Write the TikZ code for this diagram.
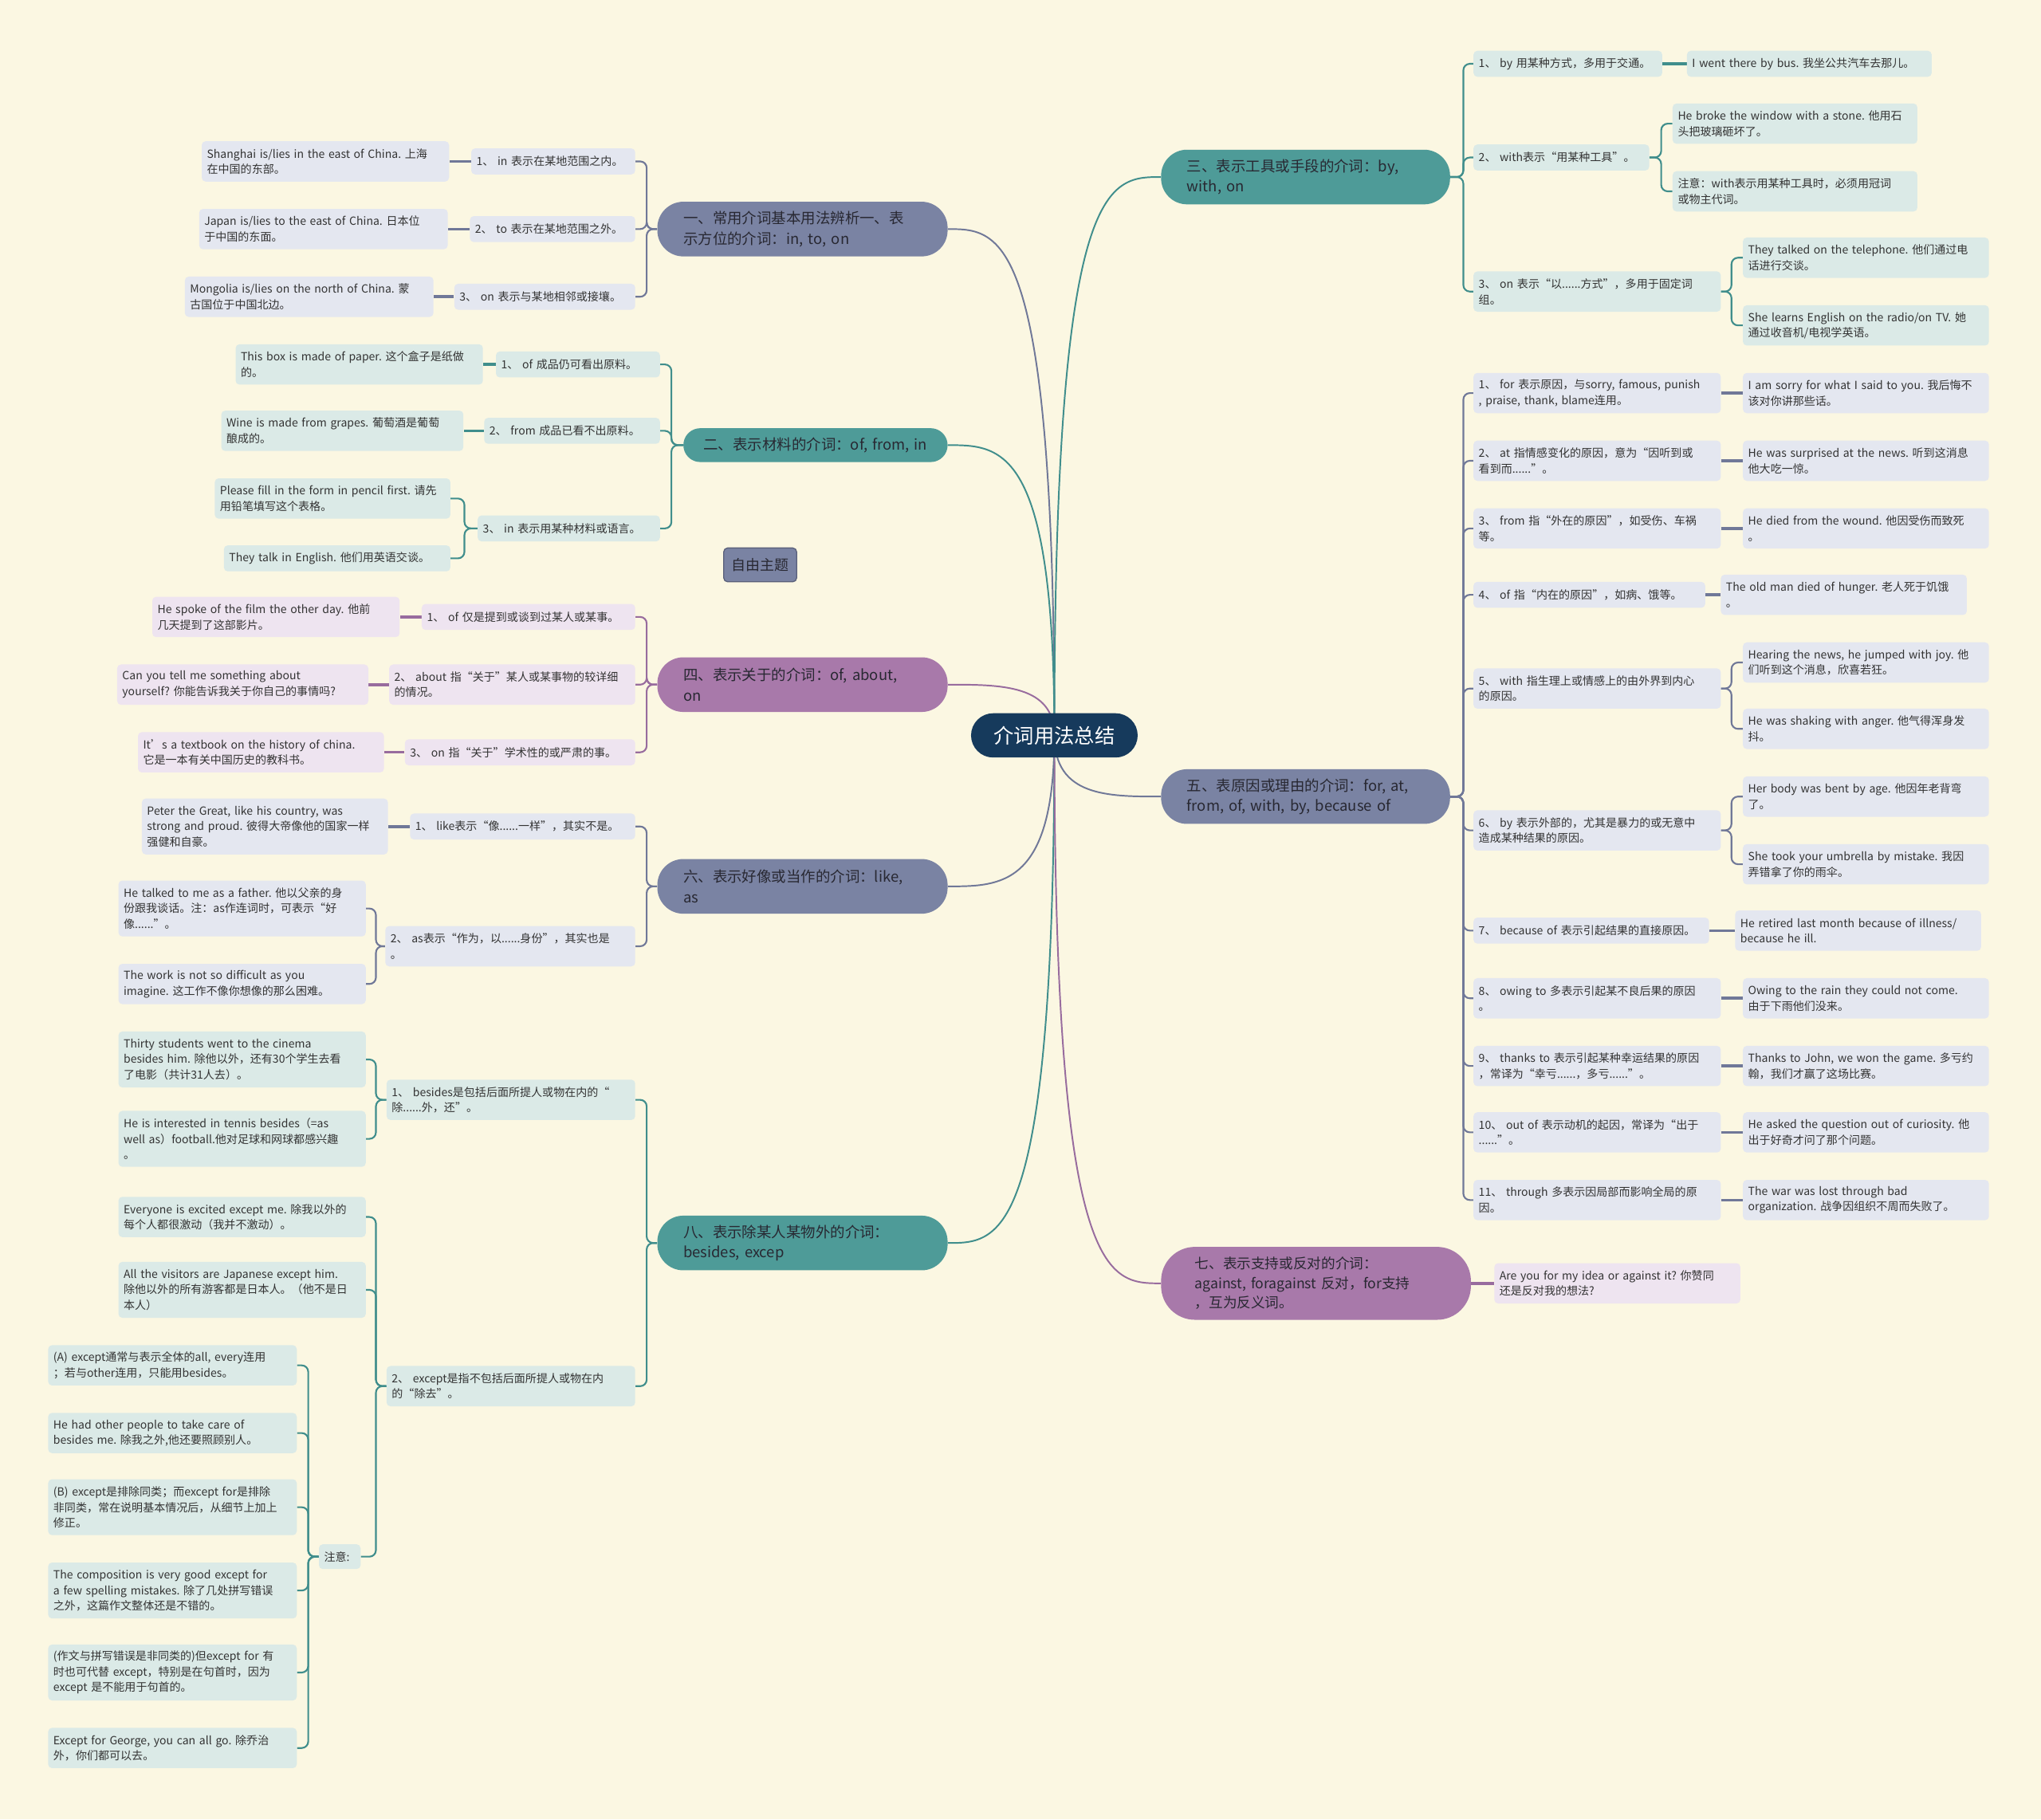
\documentclass[tikz,border=0pt]{standalone}
\usepackage{fontspec}
\setmainfont{Noto Sans CJK SC}
\frenchspacing
\definecolor{bgc}{RGB}{251,247,226}
\definecolor{rootc}{RGB}{22,58,92}
\definecolor{brB}{RGB}{122,131,163}
\definecolor{brT}{RGB}{78,155,152}
\definecolor{brP}{RGB}{168,121,170}
\definecolor{lbB}{RGB}{228,231,240}
\definecolor{ltB}{RGB}{219,234,231}
\definecolor{lpB}{RGB}{238,228,240}
\definecolor{cB}{RGB}{112,120,152}
\definecolor{cT}{RGB}{64,142,140}
\definecolor{cP}{RGB}{152,108,158}
\definecolor{txt}{RGB}{51,51,51}
\definecolor{brtxt}{RGB}{40,40,50}
\pgfdeclarelayer{bglayer}
\pgfdeclarelayer{edges}
\pgfsetlayers{bglayer,edges,main}
\tikzset{
  lf/.style={font=\fontsize{8.6}{12}\selectfont\frenchspacing, text=txt, rounded corners=3pt, inner xsep=4pt, inner ysep=1.5pt, align=left},
  lb/.style={lf, fill=lbB}, lt/.style={lf, fill=ltB}, lp/.style={lf, fill=lpB},
  bx/.style 2 args={text width=#1, minimum height=#2},
  br/.style={font=\fontsize{11.3}{15.5}\selectfont, text=brtxt, inner xsep=20pt, inner ysep=3pt, align=left, rounded corners=20pt, minimum height=42pt},
  curve/.style={line width=1.2pt},
  brk/.style={line width=1.3pt, rounded corners=5pt},
  link/.style={line width=2.2pt},
}
\begin{document}
\begin{tikzpicture}[x=1pt,y=-1pt]
\useasboundingbox (0,0) rectangle (1568,1398);
\begin{pgfonlayer}{bglayer}
\fill[bgc] (0,0) rectangle (1568,1398);
\end{pgfonlayer}

% root
\node[fill=rootc, text=white, font=\fontsize{15.5}{18}\selectfont, minimum width=128pt, minimum height=34pt, rounded corners=17pt, inner sep=0pt] (root) at (810,565) {介词用法总结};

% branches
\node[br, fill=brB, text width=183pt] (b1) at (616.5,176) {一、常用介词基本用法辨析一、表\\示方位的介词：in, to, on};
\node[br, fill=brT, text width=179pt, inner xsep=12pt, minimum height=26pt, rounded corners=13pt, align=center] (b2) at (626.5,342) {二、表示材料的介词：of, from, in};
\node[br, fill=brP, text width=183pt] (b4) at (616.5,526) {四、表示关于的介词：of, about,\\on};
\node[br, fill=brB, text width=183pt] (b6) at (616.5,681) {六、表示好像或当作的介词：like,\\as};
\node[br, fill=brT, text width=183pt] (b8) at (616.5,955) {八、表示除某人某物外的介词：\\besides, excep};
\node[br, fill=brT, text width=182pt] (b3) at (1003,136) {三、表示工具或手段的介词：by,\\with, on};
\node[br, fill=brB, text width=182pt] (b5) at (1003,612) {五、表原因或理由的介词：for, at,\\from, of, with, by, because of};
\node[br, fill=brP, text width=186pt, inner xsep=26pt, minimum height=56pt, rounded corners=26pt, font=\fontsize{10.8}{15}\selectfont] (b7) at (1011,986) {七、表示支持或反对的介词：\\against, foragainst 反对，for支持\\，互为反义词。};

\node[fill=brB, draw=cB!80!black, line width=0.8pt, rounded corners=3pt, font=\fontsize{11}{13}\selectfont, text=brtxt, minimum width=56pt, minimum height=26pt, inner sep=2pt] (free) at (584,434) {自由主题};

% branch 1
\node[lb, bx={118pt}{20pt}] (c11) at (425,124) {1、 in 表示在某地范围之内。};
\node[lb, bx={119pt}{20pt}] (c12) at (424.5,176) {2、 to 表示在某地范围之外。};
\node[lb, bx={131pt}{20pt}] (c13) at (418.5,228) {3、 on 表示与某地相邻或接壤。};
\node[lb, bx={182pt}{31pt}] (g11) at (250,124) {Shanghai is/lies in the east of China. 上海\\在中国的东部。};
\node[lb, bx={183pt}{31pt}] (g12) at (248.5,176) {Japan is/lies to the east of China. 日本位\\于中国的东面。};
\node[lb, bx={183pt}{31pt}] (g13) at (237.5,228) {Mongolia is/lies on the north of China. 蒙\\古国位于中国北边。};

% branch 2
\node[lt, bx={118pt}{20pt}] (c21) at (444,280) {1、 of 成品仍可看出原料。};
\node[lt, bx={127pt}{20pt}] (c22) at (439.5,331) {2、 from 成品已看不出原料。};
\node[lt, bx={132pt}{20pt}] (c23) at (437,406) {3、 in 表示用某种材料或语言。};
\node[lt, bx={182pt}{31pt}] (g21) at (276,280) {This box is made of paper. 这个盒子是纸做\\的。};
\node[lt, bx={178pt}{31pt}] (g22) at (263,331) {Wine is made from grapes. 葡萄酒是葡萄\\酿成的。};
\node[lt, bx={173pt}{31pt}] (g23) at (255.5,383) {Please fill in the form in pencil first. 请先\\用铅笔填写这个表格。};
\node[lt, bx={166pt}{20pt}] (g24) at (259,429) {They talk in English. 他们用英语交谈。};

% branch 4
\node[lp, bx={156pt}{20pt}] (c41) at (406,474) {1、 of 仅是提到或谈到过某人或某事。};
\node[lp, bx={181pt}{31pt}] (c42) at (393.5,526) {2、 about 指“关于”某人或某事物的较详细\\的情况。};
\node[lp, bx={169pt}{20pt}] (c43) at (399.5,578) {3、 on 指“关于”学术性的或严肃的事。};
\node[lp, bx={182pt}{31pt}] (g41) at (212,474) {He spoke of the film the other day. 他前\\几天提到了这部影片。};
\node[lp, bx={185pt}{31pt}] (g42) at (186.5,526) {Can you tell me something about\\yourself? 你能告诉我关于你自己的事情吗?};
\node[lp, bx={181pt}{31pt}] (g43) at (200.5,578) {It’s a textbook on the history of china.\\它是一本有关中国历史的教科书。};

% branch 6
\node[lb, bx={165pt}{20pt}] (c61) at (401.5,635) {1、 like表示“像......一样”，其实不是。};
\node[lb, bx={184pt}{31pt}] (c62) at (392,727) {2、 as表示“作为，以......身份”，其实也是\\。};
\node[lb, bx={181pt}{43pt}] (g61) at (203.5,635) {Peter the Great, like his country, was\\strong and proud. 彼得大帝像他的国家一样\\强健和自豪。};
\node[lb, bx={182pt}{43pt}] (g62) at (186,698) {He talked to me as a father. 他以父亲的身\\份跟我谈话。注：as作连词时，可表示“好\\像......”。};
\node[lb, bx={182pt}{31pt}] (g63) at (186,756) {The work is not so difficult as you\\imagine. 这工作不像你想像的那么困难。};

% branch 8
\node[lt, bx={183pt}{31pt}] (c81) at (392.5,845) {1、 besides是包括后面所提人或物在内的“\\除......外，还”。};
\node[lt, bx={183pt}{31pt}] (c82) at (392.5,1065) {2、 except是指不包括后面所提人或物在内\\的“除去”。};
\node[lt, bx={182pt}{43pt}] (g81) at (186,814) {Thirty students went to the cinema\\besides him. 除他以外，还有30个学生去看\\了电影（共计31人去）。};
\node[lt, bx={182pt}{43pt}] (g82) at (186,875) {He is interested in tennis besides（=as\\well as）football.他对足球和网球都感兴趣\\。};
\node[lt, bx={182pt}{31pt}] (g83) at (186,935) {Everyone is excited except me. 除我以外的\\每个人都很激动（我并不激动）。};
\node[lt, bx={182pt}{43pt}] (g84) at (186,991) {All the visitors are Japanese except him.\\除他以外的所有游客都是日本人。（他不是日\\本人）};
\node[lt, bx={24pt}{19pt}] (g85) at (261,1196) {注意:};
\node[lt, bx={183pt}{31pt}] (n1) at (132.5,1049) {(A) except通常与表示全体的all, every连用\\；若与other连用，只能用besides。};
\node[lt, bx={183pt}{31pt}] (n2) at (132.5,1101) {He had other people to take care of\\besides me. 除我之外,他还要照顾别人。};
\node[lt, bx={183pt}{43pt}] (n3) at (132.5,1158) {(B) except是排除同类；而except for是排除\\非同类，常在说明基本情况后，从细节上加上\\修正。};
\node[lt, bx={183pt}{43pt}] (n4) at (132.5,1222) {The composition is very good except for\\a few spelling mistakes. 除了几处拼写错误\\之外，这篇作文整体还是不错的。};
\node[lt, bx={183pt}{43pt}] (n5) at (132.5,1285) {(作文与拼写错误是非同类的)但except for 有\\时也可代替 except，特别是在句首时，因为\\except 是不能用于句首的。};
\node[lt, bx={183pt}{31pt}] (n6) at (132.5,1343) {Except for George, you can all go. 除乔治\\外，你们都可以去。};

% branch 3
\node[lt, bx={137pt}{20pt}] (c31) at (1204.5,49) {1、 by 用某种方式，多用于交通。};
\node[lt, bx={127pt}{20pt}] (c32) at (1199.5,121) {2、 with表示“用某种工具”。};
\node[lt, bx={182pt}{31pt}] (c33) at (1227,224) {3、 on 表示“以......方式”，多用于固定词\\组。};
\node[lt, bx={180pt}{20pt}] (g31) at (1390,49) {I went there by bus. 我坐公共汽车去那儿。};
\node[lt, bx={180pt}{31pt}] (g32) at (1379,95) {He broke the window with a stone. 他用石\\头把玻璃砸坏了。};
\node[lt, bx={180pt}{31pt}] (g33) at (1379,147) {注意：with表示用某种工具时，必须用冠词\\或物主代词。};
\node[lt, bx={181pt}{31pt}] (g34) at (1433.5,198) {They talked on the telephone. 他们通过电\\话进行交谈。};
\node[lt, bx={181pt}{31pt}] (g35) at (1433.5,250) {She learns English on the radio/on TV. 她\\通过收音机/电视学英语。};

% branch 5
\node[lb, bx={182pt}{31pt}] (c51) at (1227,302) {1、 for 表示原因，与sorry, famous, punish\\, praise, thank, blame连用。};
\node[lb, bx={182pt}{31pt}] (c52) at (1227,354) {2、 at 指情感变化的原因，意为“因听到或\\看到而......”。};
\node[lb, bx={182pt}{31pt}] (c53) at (1227,406) {3、 from 指“外在的原因”，如受伤、车祸\\等。};
\node[lb, bx={170pt}{20pt}] (c54) at (1221,457) {4、 of 指“内在的原因”，如病、饿等。};
\node[lb, bx={182pt}{31pt}] (c55) at (1227,529) {5、 with 指生理上或情感上的由外界到内心\\的原因。};
\node[lb, bx={182pt}{31pt}] (c56) at (1227,638) {6、 by 表示外部的，尤其是暴力的或无意中\\造成某种结果的原因。};
\node[lb, bx={173pt}{20pt}] (c57) at (1222.5,715) {7、 because of 表示引起结果的直接原因。};
\node[lb, bx={182pt}{31pt}] (c58) at (1227,767) {8、 owing to 多表示引起某不良后果的原因\\。};
\node[lb, bx={182pt}{31pt}] (c59) at (1227,819) {9、 thanks to 表示引起某种幸运结果的原因\\，常译为“幸亏......，多亏......”。};
\node[lb, bx={182pt}{31pt}] (c510) at (1227,870) {10、 out of 表示动机的起因，常译为“出于\\......”。};
\node[lb, bx={182pt}{31pt}] (c511) at (1227,922) {11、 through 多表示因局部而影响全局的原\\因。};
\node[lb, bx={181pt}{31pt}] (g51) at (1433.5,302) {I am sorry for what I said to you. 我后悔不\\该对你讲那些话。};
\node[lb, bx={181pt}{31pt}] (g52) at (1433.5,354) {He was surprised at the news. 听到这消息\\他大吃一惊。};
\node[lb, bx={181pt}{31pt}] (g53) at (1433.5,406) {He died from the wound. 他因受伤而致死\\。};
\node[lb, bx={181pt}{31pt}] (g54) at (1416.5,457) {The old man died of hunger. 老人死于饥饿\\。};
\node[lb, bx={181pt}{31pt}] (g55a) at (1433.5,509) {Hearing the news, he jumped with joy. 他\\们听到这个消息，欣喜若狂。};
\node[lb, bx={181pt}{31pt}] (g55b) at (1433.5,560) {He was shaking with anger. 他气得浑身发\\抖。};
\node[lb, bx={181pt}{31pt}] (g56a) at (1433.5,612) {Her body was bent by age. 他因年老背弯\\了。};
\node[lb, bx={181pt}{31pt}] (g56b) at (1433.5,664) {She took your umbrella by mistake. 我因\\弄错拿了你的雨伞。};
\node[lb, bx={181pt}{31pt}] (g57) at (1427.5,715) {He retired last month because of illness/\\because he ill.};
\node[lb, bx={181pt}{31pt}] (g58) at (1433.5,767) {Owing to the rain they could not come.\\由于下雨他们没来。};
\node[lb, bx={181pt}{31pt}] (g59) at (1433.5,819) {Thanks to John, we won the game. 多亏约\\翰，我们才赢了这场比赛。};
\node[lb, bx={181pt}{31pt}] (g510) at (1433.5,870) {He asked the question out of curiosity. 他\\出于好奇才问了那个问题。};
\node[lb, bx={181pt}{31pt}] (g511) at (1433.5,922) {The war was lost through bad\\organization. 战争因组织不周而失败了。};

% branch 7
\node[lp, bx={181pt}{31pt}] (g71) at (1242.5,986) {Are you for my idea or against it? 你赞同\\还是反对我的想法?};

\begin{pgfonlayer}{edges}
% root curves
\draw[curve, cB] (root.center) .. controls (810,176) and (769,176) .. (b1.east);
\draw[curve, cT] (root.center) .. controls (810,342) and (769,342) .. (b2.east);
\draw[curve, cP] (root.center) .. controls (810,526) and (769,526) .. (b4.east);
\draw[curve, cB] (root.center) .. controls (810,681) and (769,681) .. (b6.east);
\draw[curve, cT] (root.center) .. controls (810,955) and (769,955) .. (b8.east);
\draw[curve, cT] (root.center) .. controls (810,136) and (851,136) .. (b3.west);
\draw[curve, cB] (root.center) .. controls (810,612) and (851,612) .. (b5.west);
\draw[curve, cP] (root.center) .. controls (810,986) and (851,986) .. (b7.west);
% left brackets
\foreach \c in {c11,c12,c13} \draw[brk, cB] (b1.west) -- ++(-8,0) |- (\c.east);
\foreach \c in {c21,c22,c23} \draw[brk, cT] (b2.west) -- ++(-9,0) |- (\c.east);
\foreach \c in {g23,g24} \draw[brk, cT] (c23.west) -- ++(-10,0) |- (\c.east);
\foreach \c in {c41,c42,c43} \draw[brk, cP] (b4.west) -- ++(-8,0) |- (\c.east);
\foreach \c in {c61,c62} \draw[brk, cB] (b6.west) -- ++(-8,0) |- (\c.east);
\foreach \c in {g62,g63} \draw[brk, cB] (c62.west) -- ++(-7,0) |- (\c.east);
\foreach \c in {c81,c82} \draw[brk, cT] (b8.west) -- ++(-8,0) |- (\c.east);
\foreach \c in {g81,g82} \draw[brk, cT] (c81.west) -- ++(-8,0) |- (\c.east);
\foreach \c in {g83,g84,g85} \draw[brk, cT] (c82.west) -- ++(-8,0) |- (\c.east);
\foreach \c in {n1,n2,n3,n4,n5,n6} \draw[brk, cT] (g85.west) -- ++(-8,0) |- (\c.east);
% right brackets
\foreach \c in {c31,c32,c33} \draw[brk, cT] (b3.east) -- ++(10,0) |- (\c.west);
\foreach \c in {g32,g33} \draw[brk, cT] (c32.east) -- ++(9,0) |- (\c.west);
\foreach \c in {g34,g35} \draw[brk, cT] (c33.east) -- ++(8,0) |- (\c.west);
\foreach \c in {c51,c52,c53,c54,c55,c56,c57,c58,c59,c510,c511} \draw[brk, cB] (b5.east) -- ++(10,0) |- (\c.west);
\foreach \c in {g55a,g55b} \draw[brk, cB] (c55.east) -- ++(8,0) |- (\c.west);
\foreach \c in {g56a,g56b} \draw[brk, cB] (c56.east) -- ++(8,0) |- (\c.west);
% straight links
\draw[link, cB] (c11.west) -- (g11.east);
\draw[link, cB] (c12.west) -- (g12.east);
\draw[link, cB] (c13.west) -- (g13.east);
\draw[link, cT] (c21.west) -- (g21.east);
\draw[link, cT] (c22.west) -- (g22.east);
\draw[link, cP] (c41.west) -- (g41.east);
\draw[link, cP] (c42.west) -- (g42.east);
\draw[link, cP] (c43.west) -- (g43.east);
\draw[link, cB] (c61.west) -- (g61.east);
\draw[link, cT] (c31.east) -- (g31.west);
\draw[link, cB] (c51.east) -- (g51.west);
\draw[link, cB] (c52.east) -- (g52.west);
\draw[link, cB] (c53.east) -- (g53.west);
\draw[link, cB] (c54.east) -- (g54.west);
\draw[link, cB] (c57.east) -- (g57.west);
\draw[link, cB] (c58.east) -- (g58.west);
\draw[link, cB] (c59.east) -- (g59.west);
\draw[link, cB] (c510.east) -- (g510.west);
\draw[link, cB] (c511.east) -- (g511.west);
\draw[link, cP] (b7.east) -- (g71.west);
\end{pgfonlayer}
\end{tikzpicture}
\end{document}
